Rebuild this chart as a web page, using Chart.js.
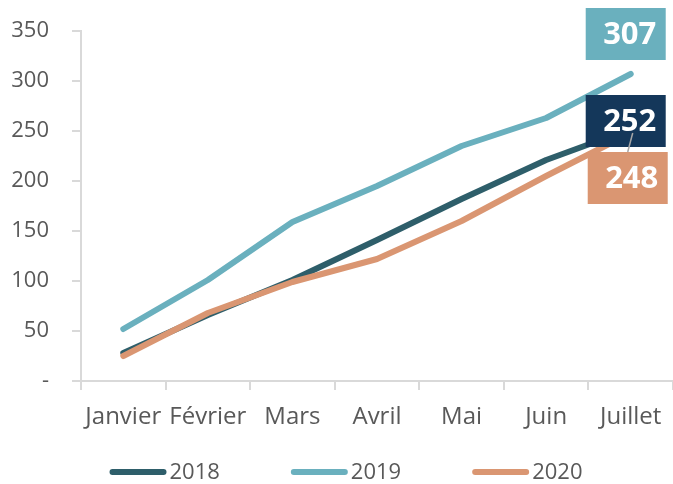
<!DOCTYPE html>
<html>
<head>
<meta charset="utf-8">
<script src="https://cdn.jsdelivr.net/npm/chart.js@4.4.0/dist/chart.umd.min.js"></script>
<style>
  body { margin: 0; background: #fff; }
  #wrap { width: 673px; height: 484px; }
</style>
</head>
<body>
<div id="wrap"><canvas id="chart"></canvas></div>
<script>
// Data
const months = ['Janvier', 'Février', 'Mars', 'Avril', 'Mai', 'Juin', 'Juillet'];
const years = ['2018', '2019', '2020'];
const values2018 = [28, 66, 101, 141, 182, 221, 252];
const values2019 = [52, 101, 159, 195, 235, 263, 307];
const values2020 = [25, 68, 99, 122, 160, 205, 248];
const yTicks = [0, 50, 100, 150, 200, 250, 300, 350];

const textGray = '#595959';
const axisGray = '#d9d9d9';
const lineColors = ['#2e5e6a', '#6ab0be', '#da9672'];
const boxColors = ['#14375a', '#6ab0be', '#da9672'];

// end value boxes (offsets from the last point)
const endLabels = {
  id: 'endLabels',
  afterDatasetsDraw(chart, args, opts) {
    const ctx = chart.ctx;
    ctx.save();
    const spots = [];
    chart.data.datasets.forEach((ds, i) => {
      const meta = chart.getDatasetMeta(i);
      const pt = meta.data[meta.data.length - 1];
      const o = opts.offsets[i];
      const cx = pt.x + o.dx;
      const cy = pt.y + o.dy;
      ctx.fillStyle = boxColors[i];
      ctx.fillRect(cx - 40, cy - 26, 80, 52);
      ctx.fillStyle = '#fff';
      ctx.font = 'bold 31px "Open Sans"';
      ctx.textAlign = 'center';
      ctx.textBaseline = 'middle';
      ctx.fillText(ds.data[ds.data.length - 1], cx + 4, cy + 1);
      spots.push({pt, cx, cy, leader: o.leader});
    });
    spots.forEach(s => {
      if (!s.leader) return;
      ctx.strokeStyle = '#a6a6a6';
      ctx.lineWidth = 1.5;
      ctx.beginPath();
      ctx.moveTo(s.pt.x + 2, s.pt.y);
      ctx.lineTo(s.cx, s.cy - 26);
      ctx.stroke();
    });
    ctx.restore();
  }
};

// legend drawn by hand so spacing matches
const lineLegend = {
  id: 'lineLegend',
  afterDraw(chart, args, opts) {
    const ctx = chart.ctx;
    ctx.save();
    ctx.font = '22px "Open Sans"';
    ctx.textBaseline = 'middle';
    ctx.textAlign = 'left';
    const items = chart.data.datasets.map(ds => ({
      text: ds.label, color: ds.borderColor, w: ctx.measureText(ds.label).width
    }));
    const total = items.reduce((s, it) => s + opts.lineLen + opts.textGap + it.w, 0) + opts.itemGap * (items.length - 1);
    let x = opts.centerX - total / 2;
    items.forEach(it => {
      ctx.strokeStyle = it.color;
      ctx.lineWidth = 6;
      ctx.lineCap = 'round';
      ctx.beginPath();
      ctx.moveTo(x + 3, opts.y);
      ctx.lineTo(x + opts.lineLen - 3, opts.y);
      ctx.stroke();
      ctx.fillStyle = textGray;
      ctx.fillText(it.text, x + opts.lineLen + opts.textGap, opts.y + 1);
      x += opts.lineLen + opts.textGap + it.w + opts.itemGap;
    });
    ctx.restore();
  }
};

const seriesValues = [values2018, values2019, values2020];
const drawOrder = [2, 1, 0];

new Chart(document.getElementById('chart'), {
  type: 'line',
  data: {
    labels: months,
    datasets: years.map((y, i) => ({
      label: y,
      data: seriesValues[i],
      borderColor: lineColors[i],
      backgroundColor: lineColors[i],
      borderWidth: 6,
      borderCapStyle: 'round',
      borderJoinStyle: 'round',
      pointRadius: 0,
      tension: 0,
      order: drawOrder[i]
    }))
  },
  options: {
    responsive: true,
    maintainAspectRatio: false,
    animation: false,
    layout: { padding: { left: 0, top: 31, right: 0, bottom: 43 } },
    plugins: {
      tooltip: { enabled: false },
      legend: { display: false },
      lineLegend: { centerX: 346, y: 472, lineLen: 57, textGap: 3, itemGap: 71 },
      endLabels: {
        offsets: [
          { dx: -5, dy: -8 },
          { dx: -5, dy: -40 },
          { dx: -3, dy: 45, leader: true }
        ]
      }
    },
    scales: {
      x: {
        offset: true,
        afterFit: (scale) => {
          scale.height = 60;
          scale.paddingLeft = 0;
          scale.paddingRight = 0;
        },
        grid: { display: true, drawOnChartArea: false, tickLength: 9, color: axisGray, lineWidth: 2, offset: true },
        border: { color: axisGray, width: 2 },
        ticks: { color: textGray, padding: 13, font: { family: '"Open Sans"', size: 24 }, maxRotation: 0, autoSkip: false }
      },
      y: {
        min: 0,
        max: 350,
        afterFit: (scale) => {
          scale.width = 81;
          scale.paddingTop = 0;
          scale.paddingBottom = 0;
        },
        afterBuildTicks: (scale) => { scale.ticks = yTicks.map(v => ({ value: v })); },
        grid: { display: true, drawOnChartArea: false, tickLength: 9, color: axisGray, lineWidth: 2 },
        border: { color: axisGray, width: 2 },
        ticks: {
          color: textGray,
          padding: 23,
          font: { family: '"Open Sans"', size: 22 },
          callback: (v) => v === 0 ? '-' : v
        }
      }
    }
  },
  plugins: [endLabels, lineLegend]
});
</script>
</body>
</html>
